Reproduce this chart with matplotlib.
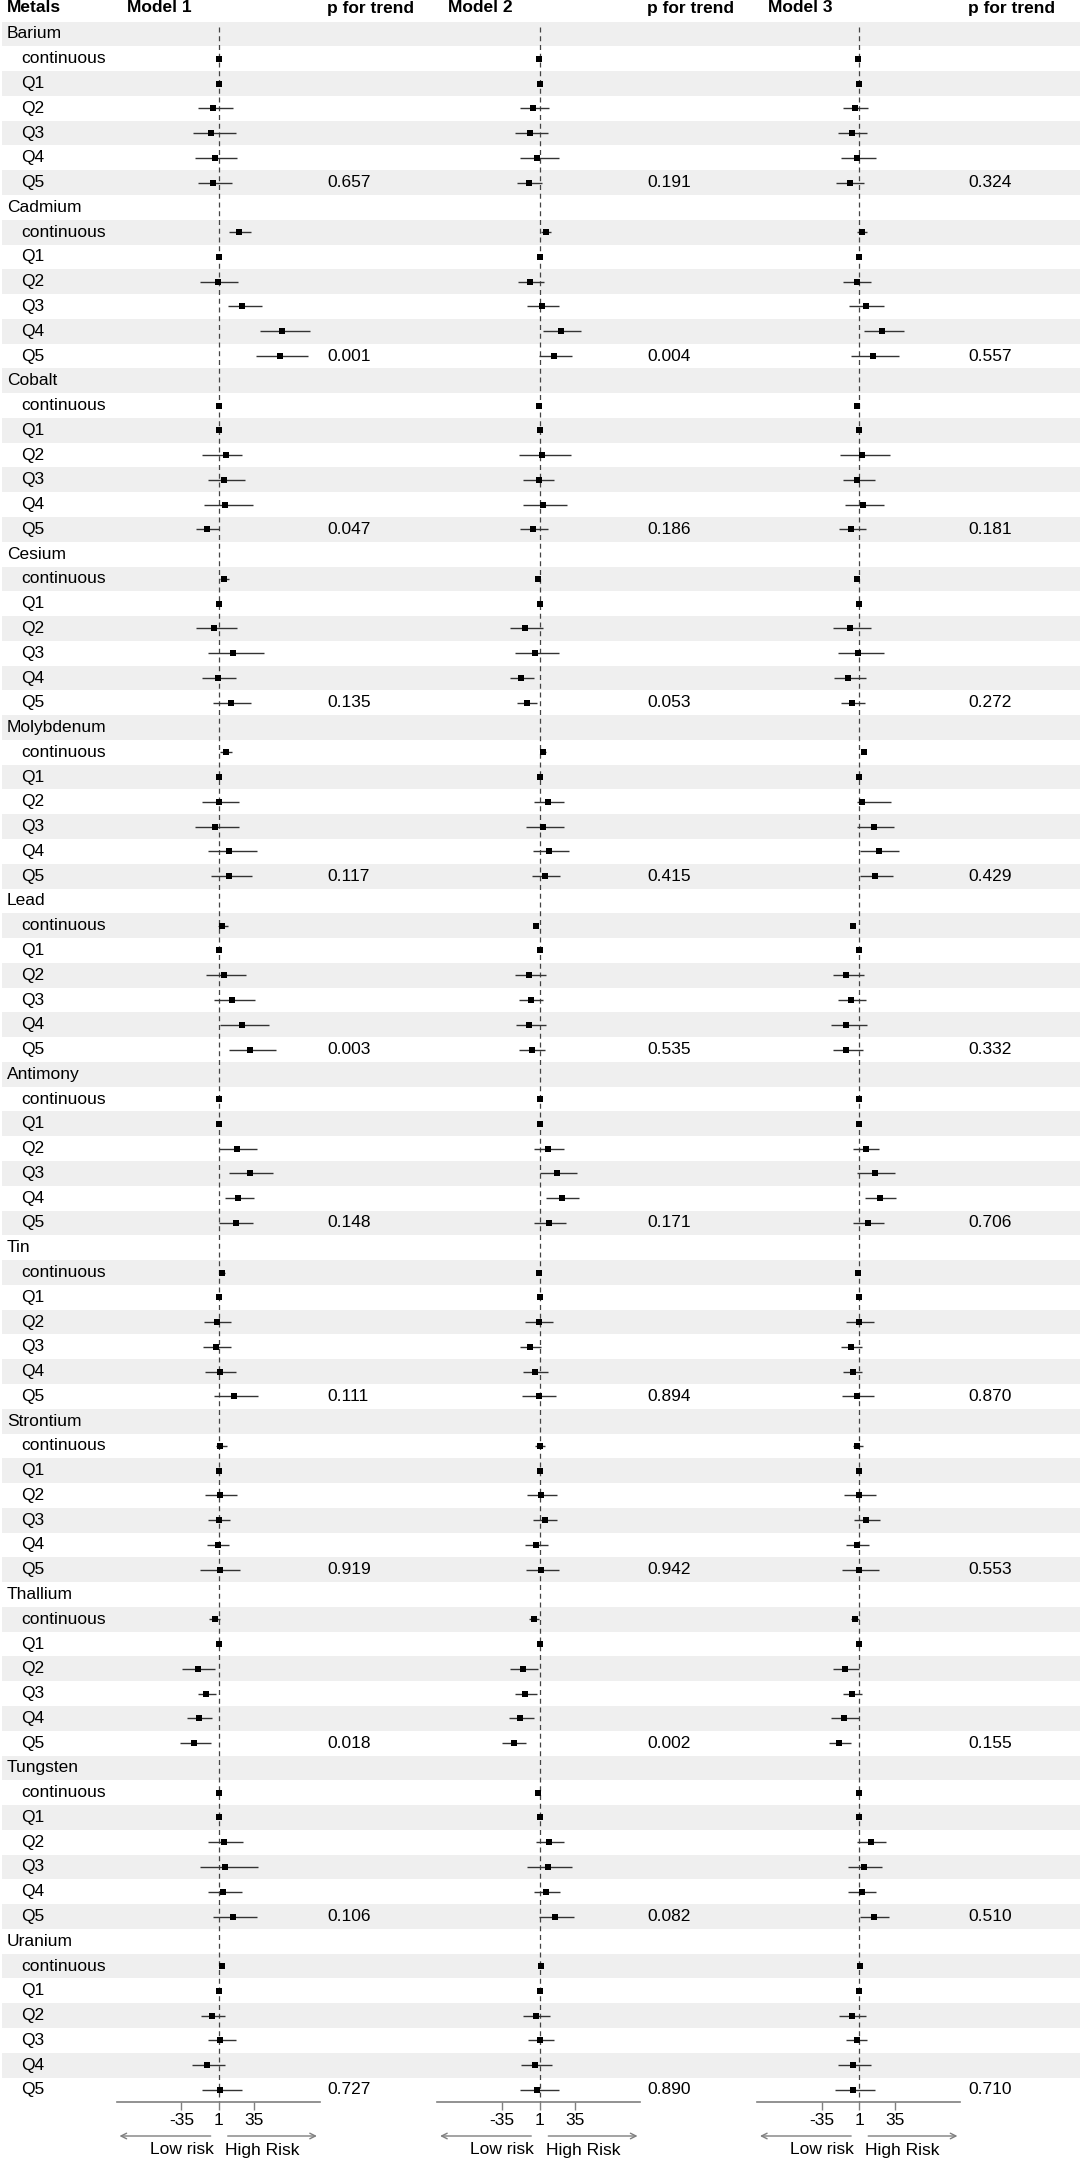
import numpy as np
import matplotlib
matplotlib.use("Agg")
import matplotlib.pyplot as plt

plt.rcParams['font.family'] = ['Liberation Sans', 'DejaVu Sans']

metals = ["Barium", "Cadmium", "Cobalt", "Cesium", "Molybdenum", "Lead",
          "Antimony", "Tin", "Strontium", "Thallium", "Tungsten", "Uranium"]
levels = ["continuous", "Q1", "Q2", "Q3", "Q4", "Q5"]
models = ["Model 1", "Model 2", "Model 3"]

# estimates and CI per metal, rows: continuous, Q1..Q5
m1_est = [[1.0, 1, -4.3, -6.3, -3.0, -4.9], [20.2, 1, 0.3, 23.5, 61.8, 59.1],
          [1.0, 1, 7.6, 5.6, 6.9, -10.2], [5.6, 1, -3.6, 14.2, -0.3, 12.2],
          [7.6, 1, 1.0, -3.0, 10.9, 10.9], [4.3, 1, 5.6, 13.5, 22.8, 30.7],
          [1.0, 1, 18.2, 30.7, 19.5, 17.5], [3.6, 1, -1.0, -1.6, 1.7, 15.5],
          [2.3, 1, 1.7, 1.0, -0.3, 1.7], [-3.0, 1, -19.5, -11.5, -18.2, -22.8],
          [1.0, 1, 5.6, 6.9, 5.0, 14.9], [3.6, 1, -5.6, 2.3, -10.9, 2.3]]
m1_lo = [[-0.5, 1, -19.5, -24.1, -21.5, -19.5], [10.2, 1, -16.8, 9.6, 40.0, 36.0],
         [-1.0, 1, -14.9, -9.6, -13.5, -20.8], [1.7, 1, -20.8, -9.6, -14.9, -4.9],
         [2.3, 1, -14.9, -21.5, -9.6, -6.9], [-0.3, 1, -11.5, -3.6, 1.7, 10.9],
         [-0.5, 1, 1.0, 10.9, 6.3, 1.0], [1.0, 1, -13.5, -14.2, -12.2, -3.6],
         [-2.3, 1, -12.2, -9.6, -10.9, -16.8], [-8.9, 1, -34.0, -19.5, -30.0, -36.0],
         [-0.5, 1, -9.6, -17.5, -9.6, -4.3], [1.5, 1, -16.2, -9.6, -24.8, -14.9]]
m1_hi = [[2.5, 1, 14.2, 16.9, 18.2, 13.5], [31.4, 1, 19.5, 42.0, 88.2, 86.2],
         [3.0, 1, 23.5, 26.1, 34.0, 1.0], [10.2, 1, 18.2, 44.6, 17.5, 32.0],
         [13.5, 1, 20.2, 20.2, 37.3, 32.7], [9.6, 1, 26.8, 35.3, 48.6, 55.2],
         [2.5, 1, 37.3, 53.2, 34.7, 34.0], [6.3, 1, 12.2, 12.9, 16.9, 38.6],
         [8.9, 1, 18.2, 11.6, 10.9, 21.5], [2.3, 1, -3.0, -1.6, -5.6, -6.3],
         [2.5, 1, 24.1, 38.6, 23.5, 37.3], [5.7, 1, 6.3, 17.5, 6.9, 23.5]]

m2_est = [[0.7, 1, -4.9, -8.2, -1.0, -8.9], [7.3, 1, -7.9, 3.3, 21.8, 14.5],
          [0.0, 1, 3.3, 0.0, 4.6, -5.3], [-0.7, 1, -12.5, -3.3, -16.5, -11.2],
          [4.6, 1, 8.6, 4.0, 9.9, 6.6], [-2.6, 1, -9.2, -7.3, -9.5, -6.6],
          [1.3, 1, 8.6, 17.8, 22.5, 9.9], [0.0, 1, 0.0, -8.6, -3.3, 0.0],
          [1.3, 1, 2.0, 6.0, -2.6, 2.7], [-4.6, 1, -15.2, -12.5, -17.8, -23.8],
          [-0.3, 1, 9.9, 8.6, 7.3, 15.9], [2.7, 1, -2.6, 1.3, -3.3, -1.3]]
m2_lo = [[-0.8, 1, -18.2, -22.1, -18.2, -20.8], [2.0, 1, -19.8, -11.2, 4.6, 0.7],
         [-1.5, 1, -19.1, -14.5, -14.5, -17.8], [-3.0, 1, -27.1, -22.4, -27.7, -20.5],
         [2.5, 1, -4.6, -11.9, -5.3, -5.9], [-4.6, 1, -22.4, -18.5, -22.0, -18.5],
         [-0.2, 1, -4.6, 1.3, 7.3, -4.6], [-2.0, 1, -12.5, -17.8, -14.5, -15.8],
         [-3.3, 1, -11.2, -5.3, -13.2, -11.9], [-9.2, 1, -27.7, -22.4, -28.4, -35.0],
         [-1.8, 1, -2.6, -10.6, -4.6, 0.0], [1.2, 1, -14.5, -9.9, -16.5, -17.8]]
m2_hi = [[2.2, 1, 10.2, 8.9, 19.5, 3.6], [11.9, 1, 5.3, 19.8, 40.3, 32.4],
         [1.5, 1, 31.0, 15.2, 27.7, 9.3], [1.6, 1, 4.6, 19.8, -4.0, -1.3],
         [6.7, 1, 24.4, 24.4, 29.1, 20.5], [-0.6, 1, 7.3, 4.6, 7.0, 6.6],
         [2.8, 1, 24.4, 37.0, 39.0, 26.4], [2.0, 1, 13.9, 2.7, 8.6, 17.2],
         [6.6, 1, 17.8, 17.8, 8.6, 19.8], [0.0, 1, -0.7, -1.3, -4.6, -11.9],
         [1.2, 1, 24.4, 31.7, 20.5, 34.4], [4.2, 1, 11.2, 15.2, 13.2, 19.2]]

m3_est = [[-0.3, 1, -3.6, -6.3, -1.6, -8.2], [3.6, 1, -1.6, 6.9, 22.8, 13.5],
          [-1.0, 1, 3.6, -1.0, 4.3, -6.9], [-1.0, 1, -8.2, -0.3, -9.6, -6.3],
          [5.0, 1, 3.0, 14.9, 19.5, 15.5], [-4.9, 1, -11.5, -7.6, -11.5, -11.8],
          [1.0, 1, 6.9, 15.5, 20.8, 8.9], [-0.3, 1, 1.0, -6.9, -5.6, -1.6],
          [-1.0, 1, 0.3, 7.6, -1.0, 0.3], [-3.6, 1, -12.9, -6.3, -14.2, -18.8],
          [0.7, 1, 12.2, 5.0, 3.0, 14.9], [1.7, 1, -6.3, -1.6, -4.9, -4.9]]
m3_lo = [[-1.8, 1, -14.9, -19.5, -16.8, -21.5], [-1.6, 1, -14.9, -8.9, 5.6, -6.9],
         [-2.5, 1, -17.5, -14.9, -12.9, -18.8], [-3.0, 1, -24.8, -19.5, -23.4, -16.8],
         [3.0, 1, -1.6, -1.6, 1.7, 1.7], [-6.0, 1, -24.8, -19.5, -26.7, -24.5],
         [-0.5, 1, -4.9, -1.6, 6.3, -4.9], [-2.0, 1, -11.5, -16.8, -14.9, -15.5],
         [-4.9, 1, -13.5, -4.3, -11.5, -15.5], [-7.6, 1, -24.8, -14.9, -26.7, -28.0],
         [-0.8, 1, -1.6, -9.6, -9.6, 1.7], [0.5, 1, -18.2, -12.2, -19.5, -22.1]]
m3_hi = [[1.2, 1, 9.6, 8.3, 16.9, 5.6], [8.3, 1, 12.2, 24.8, 43.3, 39.3],
         [0.5, 1, 30.1, 16.2, 24.8, 6.9], [1.0, 1, 12.2, 24.1, 7.6, 6.3],
         [7.0, 1, 31.4, 34.0, 39.3, 32.7], [-3.8, 1, 5.0, 6.9, 8.3, 4.6],
         [2.5, 1, 19.5, 34.7, 36.0, 24.1], [1.4, 1, 14.9, 3.6, 3.6, 14.9],
         [4.3, 1, 16.9, 20.8, 10.2, 19.5], [0.3, 1, 0.3, 3.6, 1.0, -7.6],
         [2.2, 1, 26.1, 22.8, 16.9, 29.4], [2.9, 1, 6.9, 8.3, 11.6, 16.2]]

p_trend = [["0.657", "0.191", "0.324"], ["0.001", "0.004", "0.557"],
           ["0.047", "0.186", "0.181"], ["0.135", "0.053", "0.272"],
           ["0.117", "0.415", "0.429"], ["0.003", "0.535", "0.332"],
           ["0.148", "0.171", "0.706"], ["0.111", "0.894", "0.870"],
           ["0.919", "0.942", "0.553"], ["0.018", "0.002", "0.155"],
           ["0.106", "0.082", "0.510"], ["0.727", "0.890", "0.710"]]

ticks = [-35, 1, 35]
tick_labels = ["-35", "1", "35"]

# layout (pixels on a 1080x2160 canvas, rows in row units)
W, H = 1080, 2160
row0_px, pitch = 34, 24.77
n_rows = len(metals) * 7
y_top = -row0_px / pitch
y_bot = (H - row0_px) / pitch
axis_y = (2102 - row0_px) / pitch
arrow_y = (2136 - row0_px) / pitch
risk_y = (2150 - row0_px) / pitch
head_y = (8 - row0_px) / pitch
fs = 12.5
xlim = (-97, 97.5)
panel_left = [116.7, 437.3, 757.2]
panel_w = 203
p_x = [327, 647, 968]
head_x = [127, 448, 768]

fig = plt.figure(figsize=(10.8, 21.6), dpi=100)
ax_bg = fig.add_axes([0, 0, 1, 1])
ax_bg.set_xlim(0, W)
ax_bg.set_ylim(y_bot, y_top)
ax_bg.axis('off')

rows = np.arange(n_rows)
shaded = rows[rows % 2 == 0]
ax_bg.barh(shaded, W - 2, left=2, height=1.0, color='#efefef', zorder=0)

ax_bg.text(7, head_y, "Metals", fontsize=fs, fontweight='bold', va='center')
for m in range(3):
    ax_bg.text(head_x[m], head_y, models[m], fontsize=fs, fontweight='bold', va='center')
    ax_bg.text(p_x[m], head_y, "p for trend", fontsize=fs, fontweight='bold', va='center')

for k, name in enumerate(metals):
    r = k * 7
    ax_bg.text(7, r, name, fontsize=fs, va='center')
    for j, lev in enumerate(levels):
        ax_bg.text(21, r + 1 + j, lev, fontsize=fs, va='center')
    for m in range(3):
        ax_bg.text(p_x[m], r + 6, p_trend[k][m], fontsize=fs, va='center')

all_est = [m1_est, m2_est, m3_est]
all_lo = [m1_lo, m2_lo, m3_lo]
all_hi = [m1_hi, m2_hi, m3_hi]

for m in range(3):
    ax = fig.add_axes([panel_left[m] / W, 0, panel_w / W, 1])
    ax.set_facecolor('none')
    ax.set_xlim(*xlim)
    ax.set_ylim(y_bot, y_top)
    est = np.array(all_est[m])
    lo = np.array(all_lo[m])
    hi = np.array(all_hi[m])
    yy = np.array([[k * 7 + 1 + j for j in range(6)] for k in range(len(metals))])
    ax.vlines(1, -0.3, axis_y, colors='#444444', linestyles=(0, (4, 3)), lw=0.9)
    ax.hlines(yy.ravel(), lo.ravel(), hi.ravel(), color='#333333', lw=1.0)
    ax.plot(est.ravel(), yy.ravel(), 's', ms=3.8, color='black', mew=0)

    for s in ['left', 'right', 'top']:
        ax.spines[s].set_visible(False)
    ax.spines['bottom'].set_position(('data', axis_y))
    ax.spines['bottom'].set_color('#7f7f7f')
    ax.spines['bottom'].set_linewidth(1.2)
    ax.set_yticks([])
    ax.set_xticks(ticks)
    ax.set_xticklabels(tick_labels, fontsize=fs)
    ax.tick_params(axis='x', direction='out', length=6, width=1, color='#7f7f7f', pad=2)

    ax.annotate('', xy=(xlim[0], arrow_y), xytext=(-4.3, arrow_y),
                arrowprops=dict(arrowstyle='->', color='#7f7f7f', lw=1), annotation_clip=False)
    ax.annotate('', xy=(xlim[1], arrow_y), xytext=(6.7, arrow_y),
                arrowprops=dict(arrowstyle='->', color='#7f7f7f', lw=1), annotation_clip=False)
    ax.text(-4.3, risk_y, "Low risk", fontsize=fs, ha='right', va='center')
    ax.text(6.7, risk_y, "High Risk", fontsize=fs, ha='left', va='center')

fig.savefig("out.png", dpi=100)
